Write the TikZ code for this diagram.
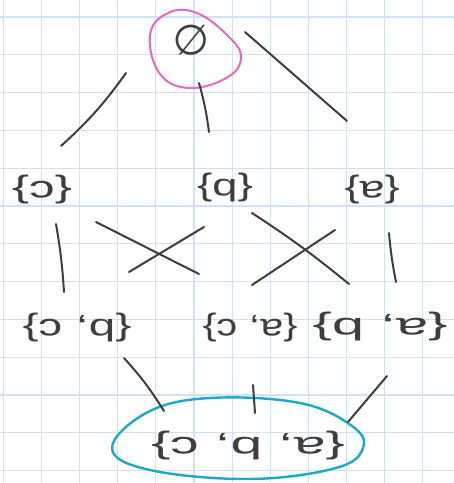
\documentclass[tikz,border=0pt]{standalone}
\usepackage{fontspec}
\setmainfont{Liberation Sans}
\newfontfamily\dvsfont{DejaVu Sans}
\usetikzlibrary{calc}
\definecolor{ink}{RGB}{62,62,62}
\definecolor{gridblue}{RGB}{208,226,244}
\definecolor{pinkpen}{RGB}{226,105,200}
\definecolor{cyanpen}{RGB}{28,168,200}
\tikzset{
  settext/.style={text=ink, rotate=180, inner sep=0pt, font=\fontsize{31}{31}\selectfont},
  pen/.style={draw=ink, line width=2pt, line cap=round},
}
\begin{document}
\begin{tikzpicture}[x=1pt,y=-1pt]
\useasboundingbox (0,0) rectangle (454,483);
\fill[white] (0,0) rectangle (454,483);
% grid paper
\foreach \i in {0,...,11} \draw[gridblue, line width=1.1pt] ({3.5+38.1*\i},0) -- ({3.5+38.1*\i},483);
\foreach \j in {0,...,12} \draw[gridblue, line width=1.1pt] (0,{17+37.8*\j}) -- (454,{17+37.8*\j});

% nodes
\node[text=ink, rotate=180, inner sep=0pt, font=\dvsfont\fontsize{42}{42}\selectfont] (e) at (191,40) {∅};
\node[settext, xscale=1.65] (c) at (42,190) {\{c\}};
\node[settext, xscale=1.47] (b) at (225,188) {\{b\}};
\node[settext, xscale=1.45] (a) at (372,190) {\{a\}};
\node[settext, xscale=1.54] (bc) at (77,328) {\{b, c\}};
\node[settext, xscale=1.34] (ac) at (250,328) {\{a, c\}};
\node[settext, xscale=1.86] (ab) at (380,327) {\{a, b\}};
\node[settext, xscale=1.84] (abc) at (248,446) {\{a, b, c\}};

% circle and ellipse
\draw[pinkpen, line width=2pt] plot[smooth cycle, tension=0.7] coordinates
  {(150,35) (168,13) (197,13) (228,36) (241,57) (228,77) (190,88) (160,74)};
\draw[cyanpen, line width=2.4pt] plot[smooth cycle, tension=0.65] coordinates
  {(112,448) (148,412) (210,398) (300,403) (352,426) (363,448) (336,468) (250,479) (150,470)};

% connector end points
\coordinate (e-c1) at (126,73);  \coordinate (e-c2) at (61,146);
\coordinate (e-b1) at (199,83);  \coordinate (e-b2) at (209,132);
\coordinate (e-a1) at (245,32);  \coordinate (e-a2) at (347,121);
\coordinate (c-bc1) at (56,224); \coordinate (c-bc2) at (64,292);
\coordinate (c-ac1) at (96,222); \coordinate (c-ac2) at (199,274);
\coordinate (b-bc1) at (204,227);\coordinate (b-bc2) at (129,272);
\coordinate (b-ab1) at (252,213);\coordinate (b-ab2) at (349,284);
\coordinate (a-ac1) at (335,230);\coordinate (a-ac2) at (252,285);
\coordinate (a-ab1) at (389,233);\coordinate (a-ab2) at (396,282);
\coordinate (bc-f1) at (124,358);\coordinate (bc-f2) at (164,411);
\coordinate (ac-f1) at (253,385);\coordinate (ac-f2) at (255,413);
\coordinate (ab-f1) at (387,376);\coordinate (ab-f2) at (348,422);

% connectors
\draw[pen] (e-c1) to[bend left=6] (e-c2);
\draw[pen] (e-b1) to[bend left=4] (e-b2);
\draw[pen] (e-a1) -- (e-a2);
\draw[pen] (c-bc1) to[bend left=3] (c-bc2);
\draw[pen] (c-ac1) -- (c-ac2);
\draw[pen] (b-bc1) -- (b-bc2);
\draw[pen] (b-ab1) to[bend left=3] (b-ab2);
\draw[pen] (a-ac1) -- (a-ac2);
\draw[pen] (a-ab1) to[bend right=3] (a-ab2);
\draw[pen] (bc-f1) to[bend left=5] (bc-f2);
\draw[pen] (ac-f1) -- (ac-f2);
\draw[pen] (ab-f1) -- (ab-f2);
\end{tikzpicture}
\end{document}
